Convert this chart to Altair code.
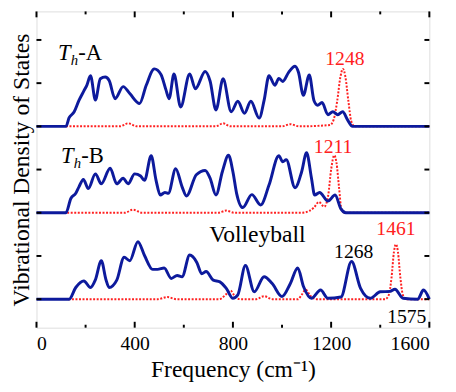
import altair as alt
import pandas as pd

# ---- data (frequency in cm-1, DOS in arbitrary units) ----
a_blue_f = [0, 120, 133, 153, 173, 193, 205, 220, 240, 260, 280, 296, 320, 353, 380, 420, 447, 480, 507, 527, 540, 560, 587, 624, 647, 687, 707, 731, 760, 793, 820, 847, 873, 907, 927, 947, 971, 987, 1003, 1027, 1053, 1067, 1087, 1111, 1130, 1145, 1163, 1187, 1207, 1227, 1247, 1267, 1287, 1600]
a_blue_v = [0, 0, 0.2, 0.33, 0.6, 0.82, 0.95, 1.17, 0.61, 1.10, 1.14, 1.06, 0.64, 0.92, 0.76, 0.53, 0.95, 1.33, 1.2, 0.85, 0.64, 1.21, 0.45, 1.21, 0.87, 1.27, 1.05, 0.38, 1.10, 0.34, 0.58, 0.30, 0.58, 0.19, 0.6, 1.17, 0.95, 1.11, 1.04, 1.25, 1.39, 1.25, 0.72, 1.19, 0.6, 0.49, 0.55, 0.27, 0.34, 0.27, 0.34, 0.15, 0, 0]
a_red_f = [120, 340, 373, 410, 730, 760, 790, 1000, 1033, 1070, 1195, 1210, 1225, 1238, 1248, 1258, 1270, 1282, 1295, 1600]
a_red_v = [0, 0, 0.07, 0, 0, 0.07, 0, 0, 0.05, 0, 0.03, 0.15, 0.6, 1.15, 1.33, 1.15, 0.6, 0.12, 0, 0]

b_blue_f = [0, 120, 140, 160, 173, 191, 211, 240, 264, 300, 327, 353, 373, 400, 424, 440, 467, 487, 504, 523, 537, 567, 593, 611, 651, 687, 707, 731, 757, 782, 800, 815, 840, 877, 913, 947, 987, 1003, 1017, 1053, 1080, 1100, 1120, 1133, 1153, 1187, 1216, 1240, 1260, 1600]
b_blue_v = [0, 0, 0.33, 0.45, 0.6, 0.77, 0.56, 0.90, 0.67, 1.03, 0.67, 0.80, 0.67, 0.90, 0.85, 0.75, 1.32, 0.75, 0.41, 0.47, 0.45, 1.02, 0.6, 0.39, 0.88, 0.98, 0.8, 0.41, 0.95, 1.33, 0.95, 0.45, 0.12, 0.42, 0.18, 0.64, 1.32, 1.18, 1.23, 0.58, 0.95, 1.39, 0.8, 0.41, 0.47, 0.27, 0.41, 0.09, 0, 0]
b_red_f = [125, 360, 393, 430, 740, 773, 805, 1080, 1110, 1130, 1150, 1172, 1188, 1200, 1213, 1222, 1232, 1242, 1255, 1600]
b_red_v = [0, 0, 0.07, 0, 0, 0.05, 0, 0, 0.04, 0.12, 0.25, 0.14, 0.4, 1.0, 1.33, 1.15, 0.6, 0.08, 0, 0]

v_blue_f = [0, 133, 160, 193, 220, 240, 264, 283, 296, 327, 357, 380, 413, 440, 473, 493, 520, 549, 573, 593, 624, 653, 673, 691, 720, 747, 773, 800, 820, 851, 887, 927, 960, 1000, 1033, 1064, 1087, 1120, 1157, 1187, 1240, 1283, 1320, 1360, 1400, 1440, 1460, 1493, 1553, 1576, 1600]
v_blue_v = [0, 0, 0.27, 0.42, 0.27, 0.45, 0.89, 0.45, 0.27, 0.44, 0.97, 0.89, 1.33, 1.01, 0.69, 0.69, 0.72, 0.48, 0.55, 0.52, 1.02, 0.85, 0.59, 0.64, 0.44, 0.40, 0.25, 0.02, 0.1, 0.78, 0.17, 0.52, 0.36, 0.06, 0.35, 0.72, 0.3, 0.02, 0.21, 0.02, 0.05, 0.87, 0.25, 0.02, 0.17, 0.18, 0.23, 0.02, 0, 0.21, 0]
v_red_f = [130, 495, 533, 570, 745, 770, 790, 810, 830, 895, 927, 960, 1065, 1080, 1097, 1115, 1140, 1420, 1435, 1446, 1456, 1464, 1472, 1482, 1492, 1505, 1600]
v_red_v = [0, 0, 0.05, 0, 0, 0.1, 0.2, 0.05, 0, 0, 0.07, 0, 0, 0.1, 0.22, 0.08, 0, 0, 0.1, 0.5, 1.1, 1.27, 1.1, 0.5, 0.1, 0, 0]

x_tick_values = [0, 200, 400, 600, 800, 1000, 1200, 1400, 1600]
x_label_values = [0, 400, 800, 1200, 1600]
y_tick_values = [0, 1, 2, 3, 4, 5, 6]

# panel baselines (vertical offsets of stacked spectra)
offsets = {"A": 4, "B": 2, "V": 0}

series = []
for panel, kind, fs, vs in [
    ("A", "red", a_red_f, a_red_v), ("B", "red", b_red_f, b_red_v), ("V", "red", v_red_f, v_red_v),
    ("A", "blue", a_blue_f, a_blue_v), ("B", "blue", b_blue_f, b_blue_v), ("V", "blue", v_blue_f, v_blue_v),
]:
    for f, v in zip(fs, vs):
        series.append({"panel": panel, "kind": kind, "freq": f, "dos": v + offsets[panel]})
df = pd.DataFrame(series)

labels = pd.DataFrame([
    {"t": "1248", "freq": 1256, "y": 5.55, "c": "#ff2020"},
    {"t": "1211", "freq": 1208, "y": 3.52, "c": "#ff2020"},
    {"t": "1461", "freq": 1464, "y": 1.63, "c": "#ff2020"},
    {"t": "1268", "freq": 1292, "y": 1.10, "c": "black"},
    {"t": "1575", "freq": 1508, "y": -0.42, "c": "black"},
])
vb = pd.DataFrame([{"t": "Volleyball", "freq": 900, "y": 1.48}])
T_lbl = pd.DataFrame([{"t": "T", "freq": 88, "y": 5.545}, {"t": "T", "freq": 100, "y": 3.16}])
h_lbl = pd.DataFrame([{"t": "h", "freq": 140, "y": 5.42}, {"t": "h", "freq": 152, "y": 3.04}])
suf_lbl = pd.DataFrame([{"t": "-A", "freq": 170, "y": 5.545}, {"t": "-B", "freq": 182, "y": 3.16}])

W, H = 400, 322
FONT = "Liberation Serif, Times New Roman, serif"
xs = alt.Scale(domain=[0, 1600], nice=False)
ys = alt.Scale(domain=[-0.66, 6.66], nice=False, zero=False)

xax = alt.Axis(values=x_label_values, format="d", ticks=False, domain=False, grid=False, labelFont=FONT,
               labelFontSize=20, labelColor="black", labelPadding=6, title="Frequency (cm\u207b\u00b9)",
               titleFont=FONT, titleFontSize=24, titleFontWeight="normal", titleColor="black", titlePadding=5)
yax = alt.Axis(labels=False, ticks=False, domain=False, grid=False, title="Vibrational Density of States",
               titleFont=FONT, titleFontSize=24, titleFontWeight="normal", titleColor="black",
               titleBaseline="alphabetic", titlePadding=8)

red = alt.Chart(df).transform_filter(alt.datum.kind == "red").mark_line(
    color="#ff2020", strokeWidth=2, strokeDash=[2, 1.6], interpolate="monotone"
).encode(x=alt.X("freq:Q", scale=xs, axis=xax), y=alt.Y("dos:Q", scale=ys, axis=yax), detail="panel:N")

blue = alt.Chart(df).transform_filter(alt.datum.kind == "blue").mark_line(
    color="#0d1a9c", strokeWidth=3, interpolate="monotone"
).encode(x=alt.X("freq:Q", scale=xs), y=alt.Y("dos:Q", scale=ys), detail="panel:N")

num = alt.Chart(labels).mark_text(font=FONT, fontSize=20, align="center", baseline="middle").encode(
    x=alt.X("freq:Q", scale=xs), y=alt.Y("y:Q", scale=ys), text="t:N", color=alt.Color("c:N", scale=None))
vbt = alt.Chart(vb).mark_text(font=FONT, fontSize=24, align="center", baseline="middle", color="black").encode(
    x=alt.X("freq:Q", scale=xs), y=alt.Y("y:Q", scale=ys), text="t:N")
tt = alt.Chart(T_lbl).mark_text(font=FONT, fontSize=23, fontStyle="italic", align="left", baseline="alphabetic", color="black").encode(
    x=alt.X("freq:Q", scale=xs), y=alt.Y("y:Q", scale=ys), text="t:N")
ht = alt.Chart(h_lbl).mark_text(font=FONT, fontSize=15, fontStyle="italic", align="left", baseline="alphabetic", color="black").encode(
    x=alt.X("freq:Q", scale=xs), y=alt.Y("y:Q", scale=ys), text="t:N")
st = alt.Chart(suf_lbl).mark_text(font=FONT, fontSize=23, align="left", baseline="alphabetic", color="black").encode(
    x=alt.X("freq:Q", scale=xs), y=alt.Y("y:Q", scale=ys), text="t:N")

# inward tick marks (axis decoration)
xt = pd.DataFrame({"freq": x_tick_values, "major": [f % 400 == 0 for f in x_tick_values]})
yt = pd.DataFrame({"y": y_tick_values})
tick_style = dict(color="black", strokeWidth=2)
bt_major = alt.Chart(xt).transform_filter(alt.datum.major).mark_rule(**tick_style).encode(
    x=alt.X("freq:Q", scale=xs), y=alt.value(H), y2=alt.value(H - 6))
bt_minor = alt.Chart(xt).transform_filter(~alt.datum.major).mark_rule(**tick_style).encode(
    x=alt.X("freq:Q", scale=xs), y=alt.value(H), y2=alt.value(H - 3))
tt_major = alt.Chart(xt).transform_filter(alt.datum.major).mark_rule(**tick_style).encode(
    x=alt.X("freq:Q", scale=xs), y=alt.value(0), y2=alt.value(6))
tt_minor = alt.Chart(xt).transform_filter(~alt.datum.major).mark_rule(**tick_style).encode(
    x=alt.X("freq:Q", scale=xs), y=alt.value(0), y2=alt.value(3))
lt = alt.Chart(yt).mark_rule(**tick_style).encode(y=alt.Y("y:Q", scale=ys), x=alt.value(0), x2=alt.value(5))
rt = alt.Chart(yt).mark_rule(**tick_style).encode(y=alt.Y("y:Q", scale=ys), x=alt.value(W), x2=alt.value(W - 5))

chart = alt.layer(red, blue, num, vbt, tt, ht, st, bt_major, bt_minor, tt_major, tt_minor, lt, rt).properties(
    width=W, height=H,
    autosize=alt.AutoSizeParams(type="none"),
    padding={"left": 29, "top": 0, "right": 19, "bottom": 62},
).configure_view(stroke="black", strokeWidth=3).configure(background="white")

chart.save("out.html", embed_options={"renderer": "svg", "actions": False})
